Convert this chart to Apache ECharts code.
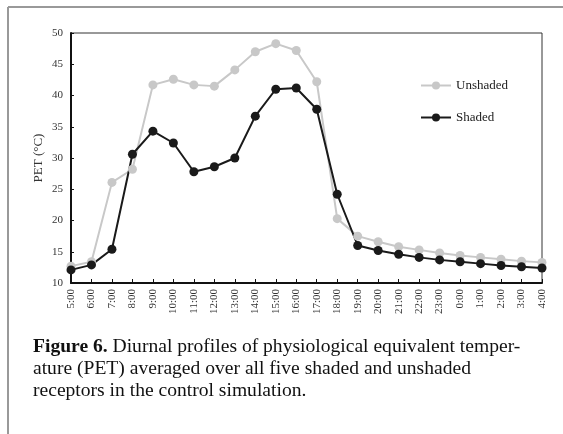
<!DOCTYPE html>
<html>
<head>
<meta charset="utf-8">
<script src="https://cdn.jsdelivr.net/npm/echarts@6/dist/echarts.min.js"></script>
<style>
  html, body { margin: 0; padding: 0; background: #fff; }
  #chart { width: 563px; height: 434px; }
</style>
</head>
<body>
<div id="chart"></div>
<script>
// hours of the day, 5:00 through 4:00
const hours = ["5:00", "6:00", "7:00", "8:00", "9:00", "10:00", "11:00", "12:00",
  "13:00", "14:00", "15:00", "16:00", "17:00", "18:00", "19:00", "20:00",
  "21:00", "22:00", "23:00", "0:00", "1:00", "2:00", "3:00", "4:00"];
// PET values (°C)
const unshaded = [12.7, 13.4, 26.1, 28.2, 41.7, 42.6, 41.7, 41.5, 44.1, 47.0, 48.3, 47.2,
  42.2, 20.3, 17.5, 16.6, 15.8, 15.3, 14.8, 14.4, 14.1, 13.8, 13.5, 13.3];
const shaded = [12.1, 12.9, 15.4, 30.6, 34.3, 32.4, 27.8, 28.6, 30.0, 36.7, 41.0, 41.2,
  37.8, 24.2, 16.0, 15.2, 14.6, 14.1, 13.7, 13.4, 13.1, 12.8, 12.6, 12.4];

const serif = "Liberation Serif";

const chart = echarts.init(document.getElementById("chart"));
chart.setOption({
  animation: false,
  textStyle: { fontFamily: serif },
  grid: {
    left: 71, right: 21, top: 33, bottom: 151,
    show: true, borderColor: "#333", borderWidth: 1
  },
  graphic: [
    { type: "line", shape: { x1: 8, y1: 7, x2: 563, y2: 7 },
      style: { stroke: "#999", lineWidth: 2 } },
    { type: "line", shape: { x1: 8, y1: 7, x2: 8, y2: 434 },
      style: { stroke: "#999", lineWidth: 2 } },
    { type: "text", left: 33, top: 336, scaleX: 1.03, originX: 33,
      style: {
        text: "{b|Figure 6.} Diurnal profiles of physiological equivalent temper-\nature (PET) averaged over all five shaded and unshaded\nreceptors in the control simulation.",
        font: "19px " + serif, fill: "#111", lineHeight: 22,
        rich: { b: { fontWeight: "bold", fontSize: 19, fontFamily: serif, lineHeight: 22 } }
      } }
  ],
  legend: {
    orient: "vertical",
    left: 415, top: 74,
    itemWidth: 30, itemHeight: 10, itemGap: 19,
    textStyle: { fontFamily: serif, fontSize: 13, color: "#222" },
    data: ["Unshaded", "Shaded"]
  },
  xAxis: {
    type: "category",
    data: hours,
    boundaryGap: false,
    axisLine: { lineStyle: { color: "#111", width: 2 } },
    axisTick: { inside: true, length: 4, lineStyle: { color: "#111" } },
    axisLabel: { rotate: 90, fontSize: 11, color: "#333", margin: 6, interval: 0 }
  },
  yAxis: {
    type: "value",
    min: 10, max: 50, interval: 5,
    name: "PET (°C)",
    nameLocation: "middle",
    nameGap: 26,
    nameMoveOverlap: false,
    nameTextStyle: { fontFamily: serif, fontSize: 13, color: "#333" },
    axisLine: { show: true, lineStyle: { color: "#111", width: 2 } },
    axisTick: { show: true, inside: true, length: 3, lineStyle: { color: "#111" } },
    axisLabel: { fontSize: 11, color: "#333", margin: 8 },
    splitLine: { show: false }
  },
  series: [
    {
      name: "Unshaded", type: "line", data: unshaded,
      symbol: "circle", symbolSize: 9,
      lineStyle: { color: "#c8c8c8", width: 2 },
      itemStyle: { color: "#c8c8c8" }
    },
    {
      name: "Shaded", type: "line", data: shaded,
      symbol: "circle", symbolSize: 9,
      lineStyle: { color: "#1a1a1a", width: 2 },
      itemStyle: { color: "#1a1a1a" }
    }
  ]
});
</script>
</body>
</html>
